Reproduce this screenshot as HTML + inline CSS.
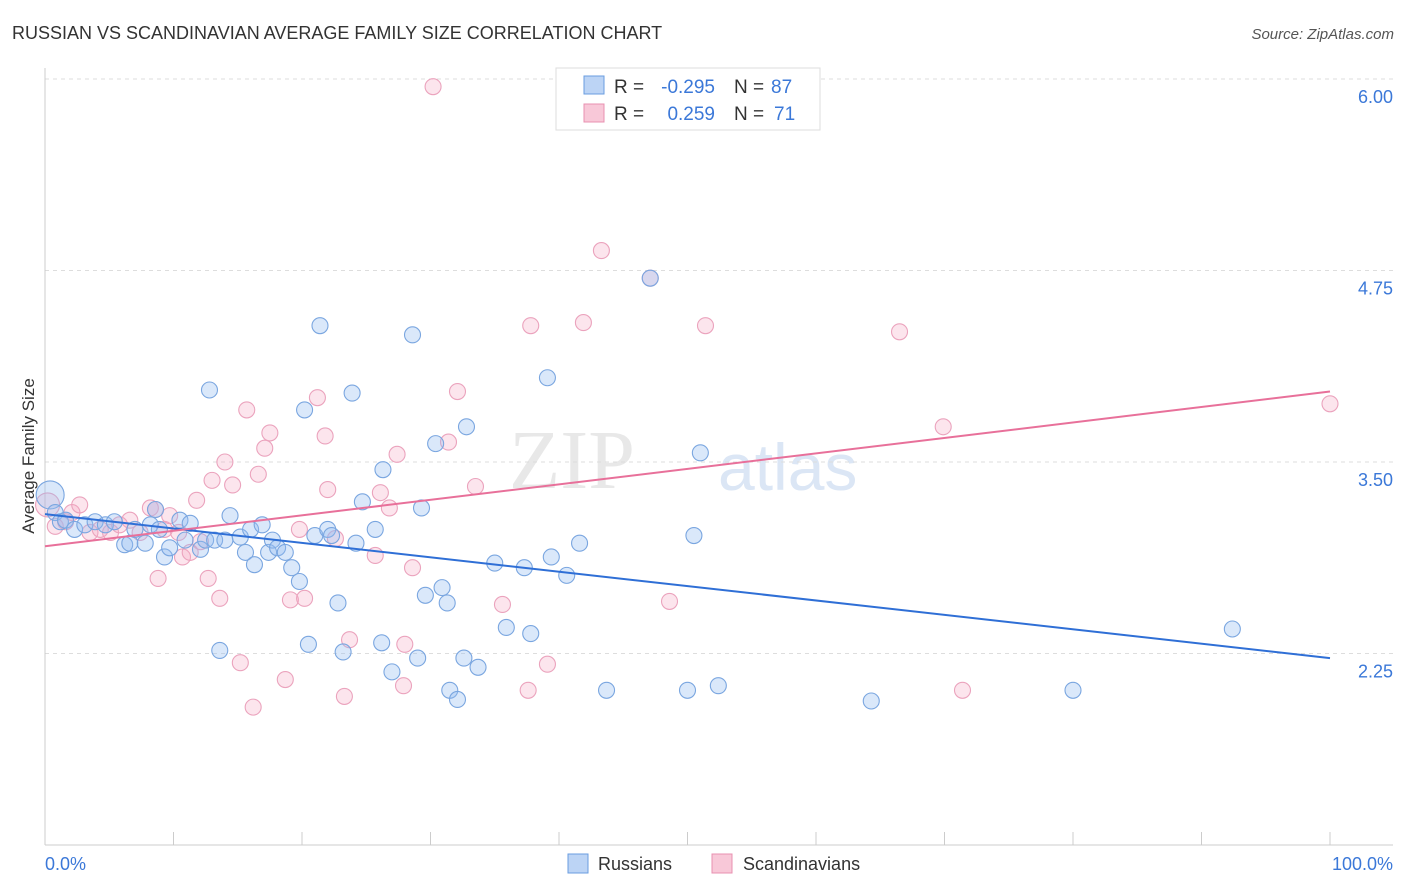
<!DOCTYPE html>
<html><head><meta charset="utf-8">
<style>
body{margin:0;background:#fff;font-family:"Liberation Sans",sans-serif;}
svg{display:block}
</style></head>
<body>
<svg id="chart" width="1406" height="892">
<text x="12" y="39" font-size="18" fill="#333">RUSSIAN VS SCANDINAVIAN AVERAGE FAMILY SIZE CORRELATION CHART</text>
<text x="1394" y="39" font-size="15" fill="#555" font-style="italic" text-anchor="end">Source: ZipAtlas.com</text>
<text x="635" y="488" font-size="84" fill="#e8e8e8" font-family="Liberation Serif" text-anchor="end">ZIP</text>
<text x="718" y="490" font-size="66" fill="#dbe6f5">atlas</text>
<g id="grid"></g>
<g id="axes"></g>
<g id="pts"></g>
<g id="lines"></g>
<text transform="translate(34,456) rotate(-90)" font-size="17" fill="#333" text-anchor="middle">Average Family Size</text>
<text x="45" y="870" font-size="18" fill="#3b78d8">0.0%</text>
<text x="1393" y="870" font-size="18" fill="#3b78d8" text-anchor="end">100.0%</text>
<g>
<rect x="556" y="68" width="264" height="62" fill="#fff" stroke="#ddd"/>
<rect x="584" y="76" width="20" height="18" fill="#bcd4f5" stroke="#6a9de0"/>
<rect x="584" y="104" width="20" height="18" fill="#f8c8d8" stroke="#e890b0"/>
<text x="614" y="93" font-size="19" fill="#333">R =</text>
<text x="715" y="93" font-size="19" fill="#3b78d8" text-anchor="end">-0.295</text>
<text x="734" y="93" font-size="19" fill="#333">N =</text>
<text x="771" y="93" font-size="19" fill="#3b78d8">87</text>
<text x="614" y="120" font-size="19" fill="#333">R =</text>
<text x="715" y="120" font-size="19" fill="#3b78d8" text-anchor="end">0.259</text>
<text x="734" y="120" font-size="19" fill="#333">N =</text>
<text x="774" y="120" font-size="19" fill="#3b78d8">71</text>
</g>
<g>
<rect x="568" y="854" width="20" height="19" fill="#bcd4f5" stroke="#6a9de0"/>
<text x="598" y="870" font-size="18" fill="#333">Russians</text>
<rect x="712" y="854" width="20" height="19" fill="#f8c8d8" stroke="#e890b0"/>
<text x="743" y="870" font-size="18" fill="#333">Scandinavians</text>
</g>
</svg>
<script>
const yTicks=[2.25,3.5,4.75,6.0];
const yTickLabels=["2.25","3.50","4.75","6.00"];
const xTicks=[0,10,20,30,40,50,60,70,80,90,100];
const russiansX=[0.4,0.8,1.2,1.6,2.3,3.1,3.9,4.7,5.4,6.2,6.6,7.0,7.8,8.2,8.6,8.9,9.3,9.7,10.5,10.9,11.3,12.1,12.5,12.8,13.2,13.6,14.0,14.4,15.2,15.6,16.0,16.3,16.9,17.4,17.7,18.1,18.7,19.2,19.8,20.2,20.5,21.0,21.4,22.0,22.3,22.8,23.2,23.9,24.2,24.7,25.7,26.2,26.3,27.0,28.6,29.0,29.3,29.6,30.4,30.9,31.3,31.5,32.1,32.6,32.8,33.7,35.0,35.9,37.3,37.8,39.1,39.4,40.6,41.6,43.7,47.1,50.0,50.5,51.0,52.4,64.3,80.0,92.4];
const russiansY=[3.285,3.17,3.11,3.12,3.06,3.09,3.11,3.09,3.11,2.96,2.97,3.06,2.97,3.09,3.19,3.06,2.88,2.94,3.12,2.99,3.10,2.93,2.99,3.97,2.99,2.27,2.99,3.15,3.01,2.91,3.06,2.83,3.09,2.91,2.99,2.94,2.91,2.81,2.72,3.84,2.31,3.02,4.39,3.06,3.02,2.58,2.26,3.95,2.97,3.24,3.06,2.32,3.45,2.13,4.33,2.22,3.20,2.63,3.62,2.68,2.58,2.01,1.95,2.22,3.73,2.16,2.84,2.42,2.81,2.38,4.05,2.88,2.76,2.97,2.01,4.70,2.01,3.02,3.56,2.04,1.94,2.01,2.41];
const scandX=[0.2,0.8,1.6,2.1,2.7,3.5,4.3,5.1,5.8,6.6,7.4,8.2,8.6,8.8,9.3,9.7,10.4,10.7,11.3,11.8,12.1,12.7,13.0,13.6,14.0,14.6,15.2,15.7,16.2,16.6,17.1,17.5,18.7,19.1,19.8,20.2,21.2,21.8,22.0,22.6,23.3,23.7,25.7,26.1,26.8,27.4,27.9,28.0,28.6,31.4,32.1,33.5,35.6,37.6,37.8,39.1,41.9,43.3,47.1,48.6,51.4,66.5,69.9,71.4,100,30.2];
const scandY=[3.22,3.08,3.11,3.17,3.22,3.04,3.06,3.04,3.09,3.12,3.04,3.20,3.19,2.74,3.06,3.15,3.04,2.88,2.91,3.25,2.98,2.74,3.38,2.61,3.50,3.35,2.19,3.84,1.90,3.42,3.59,3.69,2.08,2.60,3.06,2.61,3.92,3.67,3.32,3.00,1.97,2.34,2.89,3.30,3.20,3.55,2.04,2.31,2.81,3.63,3.96,3.34,2.57,2.01,4.39,2.18,4.41,4.88,4.70,2.59,4.39,4.35,3.73,2.01,3.88,5.95];
const russiansTrend=[3.16,2.22];
const scandTrend=[2.95,3.96];
const trendX=[0,100];

const NS="http://www.w3.org/2000/svg";
const xs=v=>45+v*12.85;
const ys=v=>462-(v-3.5)*153.2;
function mk(tag,attrs,parent){const e=document.createElementNS(NS,tag);for(const k in attrs)e.setAttribute(k,attrs[k]);document.getElementById(parent).appendChild(e);return e;}

const axisLine=mk('line',{x1:45,y1:68,x2:45,y2:845,stroke:'#ccc'},'axes');


const xAxis=mk('line',{x1:45,y1:845,x2:1393,y2:845,stroke:'#ccc'},'axes');


xTicks.forEach(t=>{const l=mk('line',{x1:xs(t),y1:832,x2:xs(t),y2:845,stroke:'#ccc'},'axes');

});
yTicks.forEach((t,i)=>{const g=mk('line',{x1:45,y1:ys(t),x2:1393,y2:ys(t),stroke:'#ddd','stroke-dasharray':'4,4'},'grid');


const tx=mk('text',{x:1393,y:ys(t)+24,'font-size':18,fill:'#3b78d8','text-anchor':'end'},'grid');
tx.textContent=yTickLabels[i];

});

scandX.forEach((x,i)=>{const c=mk('circle',{cx:xs(x),cy:ys(scandY[i]),r:i===0?12:8,fill:'rgba(244,168,196,0.3)',stroke:'#eba3bd','stroke-width':1.1},'pts');

});
russiansX.forEach((x,i)=>{const c=mk('circle',{cx:xs(x),cy:ys(russiansY[i]),r:i===0?14:8,fill:'rgba(150,190,240,0.35)',stroke:'#7aa6e0','stroke-width':1.1},'pts');

});

const bl=mk('line',{x1:xs(trendX[0]),y1:ys(russiansTrend[0]),x2:xs(trendX[1]),y2:ys(russiansTrend[1]),stroke:'#2f6fd6','stroke-width':2},'lines');


const pl=mk('line',{x1:xs(trendX[0]),y1:ys(scandTrend[0]),x2:xs(trendX[1]),y2:ys(scandTrend[1]),stroke:'#e8709a','stroke-width':2},'lines');


</script>
</body></html>
